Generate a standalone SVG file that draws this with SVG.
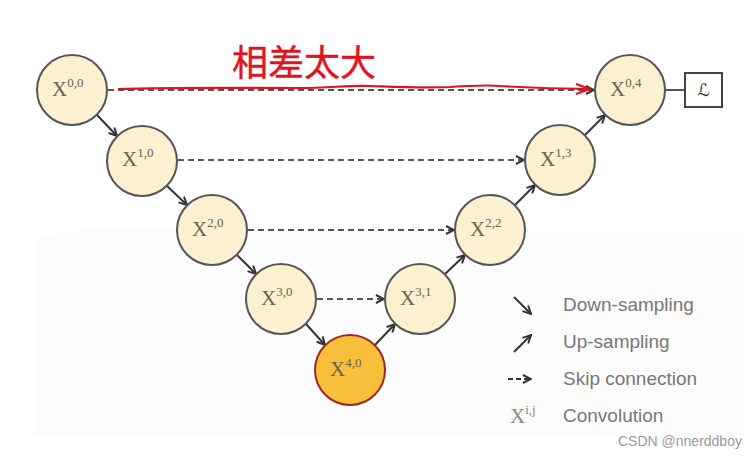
<svg xmlns="http://www.w3.org/2000/svg" width="755" height="458" viewBox="0 0 755 458">
<style>
.n{fill:#fbf0cf;stroke:#555;stroke-width:2}
.b{fill:#f8be3c;stroke:#9a2a22;stroke-width:2}
.t{font-family:"Liberation Serif",serif;font-size:21px;fill:#6a6350}
.s{font-size:13px}
.dn{stroke:#333;stroke-width:2;fill:none;marker-end:url(#ah)}
.sk{stroke:#555;stroke-width:2;fill:none;stroke-dasharray:6 4;marker-end:url(#ah)}
.lg{font-family:"Liberation Sans",Arial,sans-serif;font-size:19px;fill:#777}
</style>
<defs>
<marker id="ah" viewBox="0 0 10 10" refX="9" refY="5" markerWidth="10" markerHeight="10" markerUnits="userSpaceOnUse" orient="auto">
<path d="M1,1 L9,5 L1,9" fill="none" stroke="#333" stroke-width="2"/>
</marker>
<marker id="rh" viewBox="0 0 16 12" refX="15" refY="6" markerWidth="16" markerHeight="12" markerUnits="userSpaceOnUse" orient="auto">
<path d="M1,1 L15,6 L1,11" fill="none" stroke="#e0141e" stroke-width="2.2"/>
</marker>
</defs>
<rect width="755" height="458" fill="#fff"/>
<path d="M35,240 Q60,228 110,230 L745,232 L745,435 L35,435 Z" fill="#fcfcfc"/>
<g id="connectors">
<line class="dn" x1="97" y1="115" x2="117" y2="136"/>
<line class="dn" x1="167" y1="186" x2="187" y2="205"/>
<line class="dn" x1="237" y1="255" x2="256" y2="274"/>
<line class="dn" x1="306" y1="324" x2="325" y2="345"/>
<line class="dn" x1="375" y1="345" x2="395" y2="324"/>
<line class="dn" x1="445" y1="274" x2="465" y2="255"/>
<line class="dn" x1="515" y1="205" x2="535" y2="185"/>
<line class="dn" x1="585" y1="135" x2="605" y2="115"/>
<line class="sk" x1="108" y1="90" x2="594" y2="90"/>
<line class="sk" x1="178" y1="160" x2="524" y2="160"/>
<line class="sk" x1="248" y1="230" x2="454" y2="230"/>
<line class="sk" x1="317" y1="299" x2="384" y2="299"/>
<line x1="665" y1="90" x2="685" y2="90" stroke="#555" stroke-width="2"/>
<path d="M118,89 C180,87 240,88 300,88 C330,88 350,85 370,86 C400,87 420,88 450,87 C480,85 490,85 500,86 C530,88 560,89 590,89" fill="none" stroke="#e0141e" stroke-width="2.2" marker-end="url(#rh)"/>
</g>
<g id="n00"><circle class="n" cx="72" cy="90" r="35"/><text class="t" x="52" y="96">X<tspan class="s" dy="-9">0,0</tspan></text></g>
<g id="n10"><circle class="n" cx="142" cy="161" r="35"/><text class="t" x="122" y="166">X<tspan class="s" dy="-9">1,0</tspan></text></g>
<g id="n20"><circle class="n" cx="212" cy="230" r="35"/><text class="t" x="192" y="236">X<tspan class="s" dy="-9">2,0</tspan></text></g>
<g id="n30"><circle class="n" cx="281" cy="299" r="35"/><text class="t" x="261" y="305">X<tspan class="s" dy="-9">3,0</tspan></text></g>
<g id="n40"><circle class="b" cx="350" cy="370" r="35"/><text class="t" x="330" y="376">X<tspan class="s" dy="-9">4,0</tspan></text></g>
<g id="n31"><circle class="n" cx="420" cy="299" r="35"/><text class="t" x="400" y="305">X<tspan class="s" dy="-9">3,1</tspan></text></g>
<g id="n22"><circle class="n" cx="490" cy="230" r="35"/><text class="t" x="470" y="236">X<tspan class="s" dy="-9">2,2</tspan></text></g>
<g id="n13"><circle class="n" cx="560" cy="160" r="35"/><text class="t" x="540" y="166">X<tspan class="s" dy="-9">1,3</tspan></text></g>
<g id="n04"><circle class="n" cx="630" cy="90" r="35"/><text class="t" x="610" y="96">X<tspan class="s" dy="-9">0,4</tspan></text></g>
<g id="loss"><rect x="685" y="73" width="37" height="34" fill="#fff" stroke="#444" stroke-width="2"/><text x="703.5" y="96" text-anchor="middle" font-family="'DejaVu Sans',sans-serif" font-size="17" fill="#333">ℒ</text></g>
<g id="note"><text x="232" y="76" font-family="'Noto Sans CJK SC',sans-serif" font-size="36" fill="#e0141e" stroke="#e0141e" stroke-width="0.4">相差太大</text></g>
<g id="legend">
<line class="dn" x1="514" y1="297" x2="531" y2="314"/>
<line class="dn" x1="514" y1="352" x2="531" y2="335"/>
<line stroke="#333" stroke-width="2" stroke-dasharray="5 3" x1="508" y1="379" x2="531" y2="379" marker-end="url(#ah)"/>
<text x="510" y="423" font-family="'Liberation Serif',serif" font-size="21" fill="#888">X<tspan font-size="13" dy="-9">i,j</tspan></text>
<text class="lg" x="563" y="311">Down-sampling</text>
<text class="lg" x="563" y="348">Up-sampling</text>
<text class="lg" x="563" y="385">Skip connection</text>
<text class="lg" x="563" y="422">Convolution</text>
</g>
<text x="618" y="446" font-family="'Liberation Sans',Arial,sans-serif" font-size="14" fill="#999">CSDN @nnerddboy</text>
</svg>
